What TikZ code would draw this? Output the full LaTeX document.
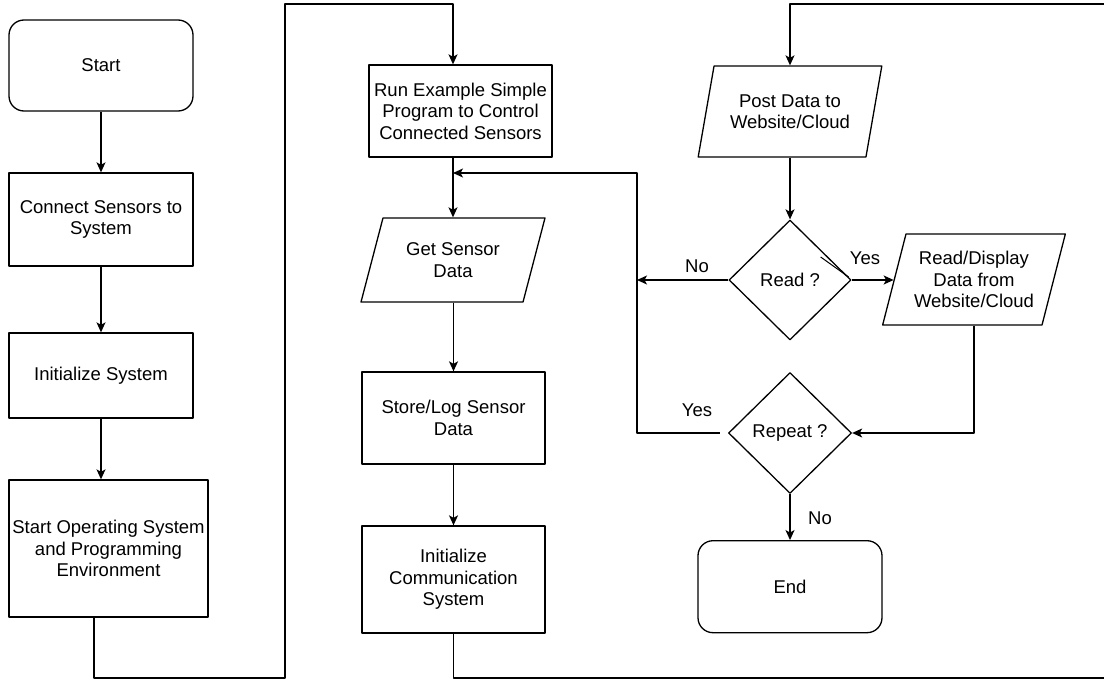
\documentclass[tikz,border=0pt]{standalone}
\usepackage{fontspec}
\setmainfont{Liberation Sans}
\usetikzlibrary{arrows.meta,shapes.geometric}

\begin{document}
\begin{tikzpicture}[x=1pt, y=-1pt, line width=1.3pt, line join=round,
  every node/.style={font=\fontsize{18.5}{21.5}\selectfont, align=center, inner sep=1pt},
  proc/.style={draw, rectangle},
  term/.style={draw, rectangle, rounded corners=15pt},
  io/.style={draw, trapezium, trapezium left angle=70, trapezium right angle=110,
             trapezium stretches=true, inner sep=0pt},
  decide/.style={draw, diamond, inner sep=0pt},
  arr/.style={-{Stealth[length=10pt,width=9pt,inset=2.5pt]}}]

  % 画布固定（先于所有路径）
  \path[use as bounding box] (0,0) rectangle (1104,679);

  % ── 起止框 ──
  \node[term, minimum width=184pt, minimum height=91pt] (start) at (101,65.5) {Start};
  \node[term, minimum width=184pt, minimum height=92pt] (end) at (790,586.7) {End};

  % ── 矩形框（名/x/y/宽/高/文字）──
  \foreach \nm/\x/\y/\w/\h/\txt in {%
      conn/101/219.5/184/93/{Connect Sensors to\\System},
      init/101/375.5/184/85/{Initialize System},
      os/108.5/548.5/199/137/{Start Operating System\\and Programming\\Environment},
      run/460.5/111/183/92/{Run Example Simple\\Program to Control\\Connected Sensors},
      store/453.5/418/183/92/{Store/Log Sensor\\Data},
      comm/453.5/579.5/183/107/{Initialize\\Communication\\System}}
    \node[proc, minimum width=\w pt, minimum height=\h pt] (\nm) at (\x,\y) {\txt};

  % ── 平行四边形（输入/输出）──
  \node[io, minimum width=184pt, minimum height=84pt,
        trapezium left angle=67, trapezium right angle=113] (get) at (453,260) {Get Sensor\\Data};
  \node[io, minimum width=184pt, minimum height=91pt] (post) at (790,111.5) {Post Data to\\Website/Cloud};
  \node[io, minimum width=183pt, minimum height=91pt] (rd) at (974,279.5) {Read/Display\\Data from\\Website/Cloud};

  % ── 判断菱形 ──
  \node[decide, minimum width=122pt, minimum height=120pt] (read) at (790,280) {Read ?};
  \node[decide, minimum width=123pt, minimum height=121pt] (repeat) at (790,433) {Repeat ?};

  % ── 折线拐点 ──
  \coordinate (osout) at ([xshift=-14.5pt]os.south);
  \coordinate (runin) at ([xshift=-7.5pt]run.north);
  \coordinate (runout) at ([xshift=-7.5pt]run.south);
  \coordinate (bendL) at (285,678);
  \coordinate (topL) at (285,4);
  \coordinate (bendR) at (1112,678);
  \coordinate (topR) at (1112,4);
  \coordinate (loop) at (637,173);

  % ── 左列 ──
  \draw[arr] (start) -- (conn);
  \draw[arr] (conn) -- (init);
  \draw[arr] (init.south) -- (init.south |- os.north);
  \draw[arr] (osout) |- (bendL) -- (topL) -| (runin);

  % ── 中列 ──
  \draw[arr] (runout) -- (runout |- get.north);
  \draw[arr] (store.north |- get.south) -- (store.north);
  \draw[arr] (store) -- (comm);
  \draw[arr] (comm.south) |- (bendR) -- (topR) -| (post.center |- post.north);

  % ── 右列 ──
  \draw[arr] (post.center |- post.south) -- (read.north);
  \draw[arr] (read.east) -- (read.east -| rd.west);
  \draw[arr] (read.west) -- (read.west -| loop);
  \draw[arr] ([xshift=-8pt]repeat.west) -| (loop) -- (loop -| runout);
  \draw[arr] (rd.center |- rd.south) |- (repeat.east);
  \draw[arr] (repeat) -- (end);
  \draw[line width=1pt] ([shift={(-3,-3)}]read.east) -- ++(-28,-20);

  % ── 分支标签 ──
  \foreach \nm/\x/\y/\txt in {yesA/865/258/Yes, noA/697/266/No, yesB/697/410/Yes, noB/820/518/No}
    \node[inner sep=0pt] (\nm) at (\x,\y) {\txt};
\end{tikzpicture}
\end{document}
